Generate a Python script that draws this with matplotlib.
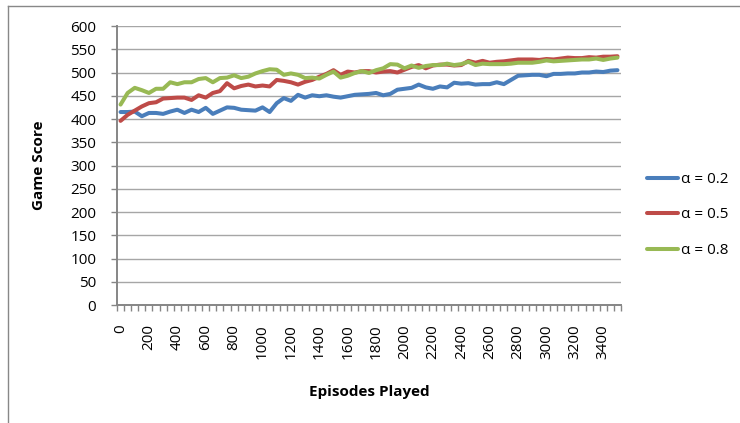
"""Game score vs episodes played for three learning rates (alpha)."""

import matplotlib

matplotlib.use("Agg")
import matplotlib.pyplot as plt
from matplotlib.lines import Line2D
from matplotlib.ticker import FixedLocator, NullFormatter

plt.rcParams["font.family"] = ["Open Sans", "DejaVu Sans"]

# episodes sampled every 50, 0 .. 3500
episodes = list(range(0, 3550, 50))

score_a02 = [
    415, 415, 416, 406, 413, 413, 411, 416, 420, 413,
    420, 415, 424, 411, 418, 425, 424, 420, 419, 418,
    425, 415, 434, 445, 439, 452, 446, 451, 449, 451,
    448, 446, 449, 452, 453, 454, 456, 451, 454, 463,
    465, 467, 474, 468, 465, 470, 468, 478, 476, 477,
    474, 475, 475, 479, 475, 484, 493, 494, 495, 495,
    492, 497, 497, 498, 498, 500, 500, 502, 501, 504,
    505,
]
score_a05 = [
    396, 409, 418, 427, 434, 436, 444, 445, 446, 446,
    441, 451, 446, 456, 460, 477, 466, 471, 474, 470,
    472, 470, 484, 482, 479, 474, 480, 484, 491, 497,
    505, 495, 502, 500, 503, 503, 500, 502, 503, 500,
    506, 512, 516, 509, 515, 517, 517, 515, 516, 525,
    521, 525, 521, 523, 524, 526, 528, 528, 528, 527,
    529, 528, 530, 532, 531, 531, 533, 532, 534, 534,
    535,
]
score_a08 = [
    431, 456, 467, 462, 456, 465, 465, 479, 475, 479,
    479, 486, 488, 479, 488, 489, 494, 488, 491, 498,
    503, 507, 506, 495, 498, 495, 488, 489, 487, 495,
    502, 489, 493, 499, 503, 499, 505, 509, 518, 517,
    509, 515, 510, 514, 516, 516, 519, 516, 518, 523,
    516, 519, 518, 518, 518, 519, 521, 521, 521, 523,
    526, 524, 525, 526, 527, 528, 528, 530, 527, 530,
    532,
]

series = [
    ("α = 0.2", score_a02, "#4a7ebb"),
    ("α = 0.5", score_a05, "#be4b48"),
    ("α = 0.8", score_a08, "#98b954"),
]

W, H = 740, 423
fig = plt.figure(figsize=(W / 100, H / 100), dpi=100)
# plot area in pixels: x 117..621, y 26..305
ax = fig.add_axes([117 / W, 1 - 305 / H, (621 - 117) / W, (305 - 26) / H])

pos = list(range(len(episodes)))
for label, vals, color in series:
    ax.plot(pos, vals, color=color, lw=2.9, label=label, solid_capstyle="round")

ax.set_xlim(-0.5, len(episodes) - 0.5)
ax.set_ylim(0, 600)
ax.set_yticks(range(0, 601, 50))
ax.grid(axis="y", color="#a6a6a6", lw=1.0)
ax.set_axisbelow(True)

# category axis: label every 4th category, tick marks between categories
ax.set_xticks(pos[::4])
ax.set_xticklabels([str(e) for e in episodes[::4]], rotation=90, va="top")
ax.xaxis.set_minor_locator(FixedLocator([p - 0.5 for p in pos] + [pos[-1] + 0.5]))
ax.xaxis.set_minor_formatter(NullFormatter())
ax.tick_params(axis="x", which="major", length=0, pad=14, labelsize=11)
ax.tick_params(axis="x", which="minor", length=4.5, width=1.0, color="#868686")
ax.tick_params(axis="y", length=4.5, width=1.0, color="#868686", labelsize=11, pad=10.5)

for side in ("top", "right"):
    ax.spines[side].set_visible(False)
for side in ("left", "bottom"):
    ax.spines[side].set_color("#868686")
    ax.spines[side].set_linewidth(1.4)

ax.set_ylabel("Game Score", fontsize=11, fontweight="bold", va="center")
ax.yaxis.set_label_coords((39 - 117) / (621 - 117), 0.5)
ax.set_xlabel("Episodes Played", fontsize=11, fontweight="bold")
ax.xaxis.set_label_coords(0.5, (305 - 385) / (305 - 26))

ax.legend(
    loc="center left",
    bbox_to_anchor=(641 / W, 1 - 215 / H),
    bbox_transform=fig.transFigure,
    frameon=False,
    fontsize=11,
    handlelength=2.0,
    handletextpad=0.25,
    labelspacing=1.35,
    borderaxespad=0,
)

# chart-area border (left and top edges)
fig.add_artist(Line2D([7.5 / W, 7.5 / W], [0, 1 - 6 / H], color="#888888", lw=1.0))
fig.add_artist(Line2D([7.5 / W, 1], [1 - 6 / H, 1 - 6 / H], color="#888888", lw=1.0))

fig.savefig("out.png", dpi=100)
